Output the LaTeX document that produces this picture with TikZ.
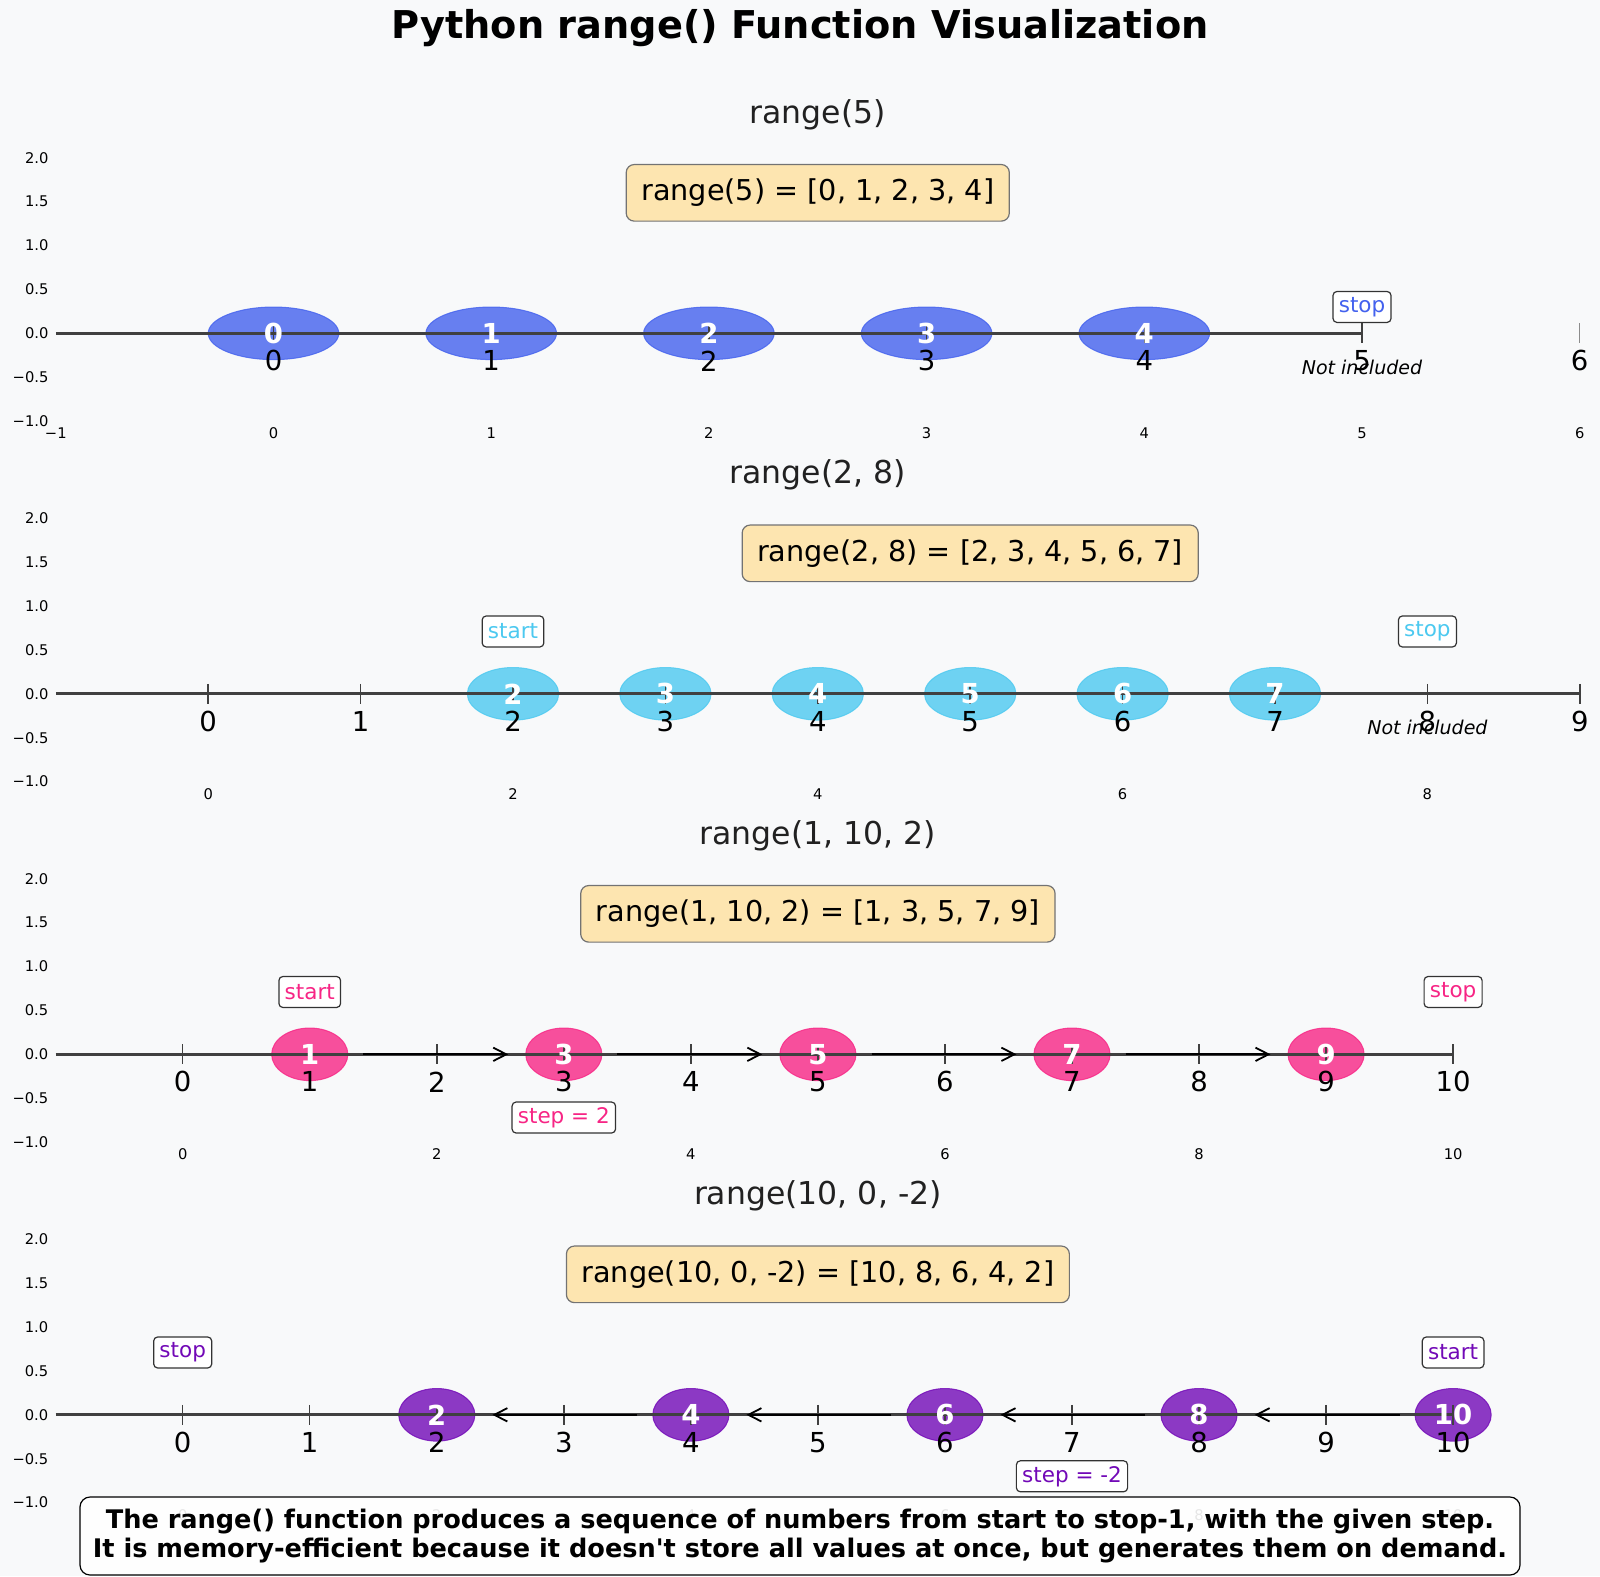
\documentclass[tikz,border=0pt]{standalone}
\usepackage{fontspec}
\setmainfont{DejaVu Sans}[Ligatures=TeXOff]
\usetikzlibrary{shapes.geometric,arrows.meta}

\definecolor{bgcol}{HTML}{F8F9FA}
\definecolor{cblue}{HTML}{4361EE}
\definecolor{ccyan}{HTML}{4CC9F0}
\definecolor{cpink}{HTML}{F72585}
\definecolor{cpurple}{HTML}{7209B7}
\definecolor{boxfill}{RGB}{253,229,176}

\tikzset{
  maintitle/.style={font=\fontsize{19.15pt}{23pt}\selectfont\bfseries},
  subtitle/.style={font=\fontsize{15.75pt}{19pt}\selectfont, text=black!87},
  formula/.style={draw=black!55, fill=boxfill, rounded corners=4pt, line width=0.6pt,
    inner xsep=7.5pt, inner ysep=0pt, minimum height=28.3pt, font=\fontsize{14.35pt}{17pt}\selectfont},
  dot/.style={ellipse, inner sep=0pt, minimum height=26.3pt, fill=#1, fill opacity=0.8,
    draw=#1, draw opacity=0.8, line width=0.5pt},
  dotnum/.style={text=white, font=\fontsize{13.75pt}{16pt}\selectfont\bfseries, inner sep=0pt},
  numlabel/.style={font=\fontsize{13.75pt}{16pt}\selectfont, inner sep=0pt},
  tag/.style={draw=black!80, fill=white, rounded corners=2pt, line width=0.6pt,
    inner xsep=2.9pt, inner ysep=0pt, minimum height=15.5pt, font=\fontsize{10.75pt}{13pt}\selectfont},
  notinc/.style={font=\fontsize{9.5pt}{11pt}\selectfont\itshape, inner sep=0pt},
  ytick/.style={anchor=east, xshift=-3.5pt, font=\fontsize{7.35pt}{9pt}\selectfont, inner sep=0pt},
  xtick/.style={font=\fontsize{7.35pt}{9pt}\selectfont, inner sep=0pt},
  axisline/.style={draw=black!75, line width=1.4pt},
  tickmark/.style={draw=black!75, line width=0.75pt},
  steparrow/.style={-{Straight Barb[length=6.5pt,width=6.7pt]}, line width=0.9pt},
  note/.style={draw=black, fill=white, fill opacity=0.9, text opacity=1, rounded corners=5pt,
    line width=0.6pt, minimum width=720pt, minimum height=39pt, align=center,
    font=\fontsize{12.8pt}{14.6pt}\selectfont\bfseries}
}

\begin{document}
\begin{tikzpicture}[x=0.5pt, y=-0.5pt]
  \fill[bgcol] (0,0) rectangle (1600,1576);
  \useasboundingbox (0,0) rectangle (1600,1576);

  \node[maintitle] (title) at (800,27.6) {Python range() Function Visualization};

  %-- range(5)
  \begin{scope}[shift={(273.5,333.3)}, x=108.85pt, y=43.9pt, dot/.append style={minimum width=65.3pt}]
    \node[subtitle] (ta) at (2.5,2.49) {range(5)};
    \node[formula] (fa) at (2.5,1.6) {range(5) = [0, 1, 2, 3, 4]};
    \foreach \v/\s [count=\k] in {2/2.0,1.5/1.5,1/1.0,0.5/0.5,0/0.0,-0.5/−0.5,-1/−1.0}
      \node[ytick] (ya\k) at (-1,\v) {\s};
    \foreach \v in {0,...,4}
      \node[dot=cblue] (a\v) at (\v,0) {};
    \draw[axisline] (-1,0) -- (5,0);
    \foreach \v in {0,...,5}
      \draw[tickmark] (\v,0.114) -- (\v,-0.114);
    \draw[tickmark, draw=black!45, line width=0.5pt] (6,0.114) -- (6,-0.114);
    \foreach \v in {0,...,4}
      \node[dotnum] (an\v) at (a\v) {\v};
    \foreach \v in {0,...,6}
      \node[numlabel] (al\v) at (\v,-0.314) {\v};
    \node[tag, text=cblue] (astop) at (5,0.30) {stop};
    \node[notinc] (anot) at (5,-0.39) {Not included};
    \node[xtick] (axm) at (-1,-1.14) {−1};
    \foreach \v in {0,...,6}
      \node[xtick] (ax\v) at (\v,-1.14) {\v};
  \end{scope}

  %-- range(2, 8)
  \begin{scope}[shift={(208.2,693.8)}, x=76.2pt, y=43.9pt, dot/.append style={minimum width=45.7pt}]
    \node[subtitle] (tb) at (4,2.49) {range(2, 8)};
    \node[formula] (fb) at (5,1.6) {range(2, 8) = [2, 3, 4, 5, 6, 7]};
    \foreach \v/\s [count=\k] in {2/2.0,1.5/1.5,1/1.0,0.5/0.5,0/0.0,-0.5/−0.5,-1/−1.0}
      \node[ytick] (yb\k) at (-1,\v) {\s};
    \foreach \v in {2,...,7}
      \node[dot=ccyan] (b\v) at (\v,0) {};
    \draw[axisline] (-1,0) -- (9,0);
    \foreach \v in {0,...,9}
      \draw[tickmark] (\v,0.114) -- (\v,-0.114);
    \foreach \v in {2,...,7}
      \node[dotnum] (bn\v) at (b\v) {\v};
    \foreach \v in {0,...,9}
      \node[numlabel] (bl\v) at (\v,-0.314) {\v};
    \node[tag, text=ccyan] (bstart) at (2,0.71) {start};
    \node[tag, text=ccyan] (bstop) at (8,0.71) {stop};
    \node[notinc] (bnot) at (8,-0.38) {Not included};
    \foreach \v in {0,2,...,8}
      \node[xtick] (bx\v) at (\v,-1.14) {\v};
  \end{scope}

  %-- range(1, 10, 2)
  \begin{scope}[shift={(182.7,1054.3)}, x=63.52pt, y=43.9pt, dot/.append style={minimum width=38.1pt}]
    \node[subtitle] (tc) at (5,2.49) {range(1, 10, 2)};
    \node[formula] (fc) at (5,1.6) {range(1, 10, 2) = [1, 3, 5, 7, 9]};
    \foreach \v/\s [count=\k] in {2/2.0,1.5/1.5,1/1.0,0.5/0.5,0/0.0,-0.5/−0.5,-1/−1.0}
      \node[ytick] (yc\k) at (-1,\v) {\s};
    \foreach \v in {1,3,...,9}
      \node[dot=cpink] (c\v) at (\v,0) {};
    \draw[axisline] (-1,0) -- (10,0);
    \foreach \v in {0,...,10}
      \draw[tickmark] (\v,0.114) -- (\v,-0.114);
    \draw[steparrow] ([xshift=7.5pt]c1.east) -- ([xshift=-8.5pt]c3.west);
    \draw[steparrow] ([xshift=7.5pt]c3.east) -- ([xshift=-8.5pt]c5.west);
    \draw[steparrow] ([xshift=7.5pt]c5.east) -- ([xshift=-8.5pt]c7.west);
    \draw[steparrow] ([xshift=7.5pt]c7.east) -- ([xshift=-8.5pt]c9.west);
    \foreach \v in {1,3,...,9}
      \node[dotnum] (cn\v) at (c\v) {\v};
    \foreach \v in {0,...,10}
      \node[numlabel] (cl\v) at (\v,-0.314) {\v};
    \node[tag, text=cpink] (cstart) at (1,0.71) {start};
    \node[tag, text=cpink] (cstop) at (10,0.71) {stop};
    \node[tag, text=cpink] (cstep) at (3,-0.72) {step = 2};
    \foreach \v in {0,2,...,10}
      \node[xtick] (cx\v) at (\v,-1.14) {\v};
  \end{scope}

  %-- range(10, 0, -2)
  \begin{scope}[shift={(182.7,1414.8)}, x=63.52pt, y=43.9pt, dot/.append style={minimum width=38.1pt}]
    \node[subtitle] (td) at (5,2.49) {range(10, 0, -2)};
    \node[formula] (fd) at (5,1.6) {range(10, 0, -2) = [10, 8, 6, 4, 2]};
    \foreach \v/\s [count=\k] in {2/2.0,1.5/1.5,1/1.0,0.5/0.5,0/0.0,-0.5/−0.5,-1/−1.0}
      \node[ytick] (yd\k) at (-1,\v) {\s};
    \foreach \v in {2,4,...,10}
      \node[dot=cpurple] (d\v) at (\v,0) {};
    \draw[axisline] (-1,0) -- (10,0);
    \foreach \v in {0,...,10}
      \draw[tickmark] (\v,0.114) -- (\v,-0.114);
    \draw[steparrow] ([xshift=-7.5pt]d10.west) -- ([xshift=8.5pt]d8.east);
    \draw[steparrow] ([xshift=-7.5pt]d8.west) -- ([xshift=8.5pt]d6.east);
    \draw[steparrow] ([xshift=-7.5pt]d6.west) -- ([xshift=8.5pt]d4.east);
    \draw[steparrow] ([xshift=-7.5pt]d4.west) -- ([xshift=8.5pt]d2.east);
    \foreach \v in {2,4,...,10}
      \node[dotnum] (dn\v) at (d\v) {\v};
    \foreach \v in {0,...,10}
      \node[numlabel] (dl\v) at (\v,-0.314) {\v};
    \node[tag, text=cpurple] (dstop) at (0,0.71) {stop};
    \node[tag, text=cpurple] (dstart) at (10,0.71) {start};
    \node[tag, text=cpurple] (dstep) at (7,-0.70) {step = -2};
    \foreach \v in {0,2,...,10}
      \node[xtick] (dx\v) at (\v,-1.14) {\v};
  \end{scope}

  \node[note] (note) at (800,1536) {The range() function produces a sequence of numbers from start to stop-1, with the given step.\\It is memory-efficient because it doesn't store all values at once, but generates them on demand.};
\end{tikzpicture}
\end{document}
